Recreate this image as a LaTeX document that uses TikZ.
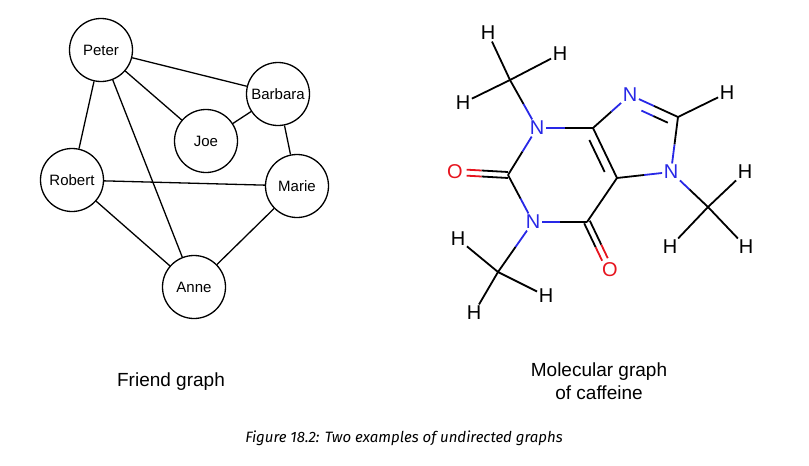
\documentclass[tikz,border=0pt]{standalone}
\usepackage{fontspec}
\setmainfont{Liberation Sans}
\newfontfamily\capfont{Fira Sans}
\usetikzlibrary{calc}
\definecolor{nblue}{RGB}{40,40,230}
\definecolor{ored}{RGB}{230,20,30}
\tikzset{person/.style={draw,circle,line width=1.3pt,minimum size=63pt,inner sep=0pt,font=\fontsize{15}{17}\selectfont},
atom/.style={inner sep=1.5pt,font=\fontsize{20}{22}\selectfont},
bondline/.style={line width=1.8pt}}
\newcommand{\bond}[4]{\draw[bondline,#3] (#1) -- ($(#1)!.5!(#2)$);
\draw[bondline,#4] ($(#1)!.5!(#2)$) -- (#2);}
% double bond line: from, to, offset
\newcommand{\obond}[3]{\draw[bondline] ($(#1)+(#3)$) -- ($(#1)!.5!(#2)+(#3)$);
\draw[bondline,ored] ($(#1)!.5!(#2)+(#3)$) -- ($(#1)!.78!(#2)+(#3)$);}
\begin{document}
\begin{tikzpicture}[x=1pt,y=-1pt]
\useasboundingbox (0,0) rectangle (809,466);
% friend graph
\node[person] (peter) at (101,50) {Peter};
\node[person] (barbara) at (278,94) {Barbara};
\node[person] (joe) at (206,141) {Joe};
\node[person] (robert) at (72,180) {Robert};
\node[person] (marie) at (297,186) {Marie};
\node[person] (anne) at (194,287) {Anne};
\foreach \from/\to in {peter/barbara,peter/joe,peter/robert,peter/anne,joe/barbara,barbara/marie,robert/marie,robert/anne,anne/marie}
\draw[line width=1.3pt] (\from) -- (\to);

% caffeine
\node[atom] (h1) at (488,33) {H};
\node[atom] (h2) at (560,54) {H};
\node[atom] (h3) at (463,103) {H};
\coordinate (c1) at (510,80);
\node[atom,nblue] (n1) at (537,128) {N};
\coordinate (c4) at (593,128);
\node[atom,nblue] (n9) at (630,95) {N};
\coordinate (c8) at (678,117);
\node[atom] (h4) at (727,93) {H};
\node[atom,nblue] (n7) at (671,172) {N};
\coordinate (c5) at (617,178);
\coordinate (c6) at (587,222);
\node[atom,ored] (o2) at (610,270) {O};
\node[atom,nblue] (n3) at (533,222) {N};
\coordinate (c2) at (508,175);
\node[atom,ored] (o1) at (455,172) {O};
\coordinate (c3) at (498,272);
\node[atom] (h5) at (458,239) {H};
\node[atom] (h6) at (546,296) {H};
\node[atom] (h7) at (474,313) {H};
\coordinate (c7) at (708,207);
\node[atom] (h8) at (745,172) {H};
\node[atom] (h9) at (670,247) {H};
\node[atom] (h10) at (746,247) {H};

\foreach \from/\to in {c1/h1,c1/h2,c1/h3,c8/h4,c3/h5,c3/h6,c3/h7,c7/h8,c7/h9,c7/h10,c4/c5,c5/c6}
\draw[bondline] (\from) -- (\to);
\bond{c1}{n1}{black}{nblue}
\bond{n1}{c4}{nblue}{black}
\bond{c4}{n9}{black}{nblue}
\bond{n9}{c8}{nblue}{black}
\bond{c8}{n7}{black}{nblue}
\bond{n7}{c5}{nblue}{black}
\bond{n7}{c7}{nblue}{black}
\bond{c6}{n3}{black}{nblue}
\bond{n3}{c2}{nblue}{black}
\bond{c2}{n1}{black}{nblue}
\bond{n3}{c3}{nblue}{black}
% double bonds
\obond{c2}{o1}{0,-3}
\obond{c2}{o1}{0,3}
\obond{c6}{o2}{-2.8,1.3}
\obond{c6}{o2}{2.8,-1.3}
\draw[bondline] ($(c4)!.18!(c5)+(-8,3)$) -- ($(c4)!.82!(c5)+(-8,3)$);
\draw[bondline,nblue] ($(n9)!.3!(c8)+(-3,9)$) -- ($(n9)!.55!(c8)+(-3,9)$);
\draw[bondline] ($(n9)!.55!(c8)+(-3,9)$) -- ($(n9)!.85!(c8)+(-3,9)$);

% captions
\node[font=\fontsize{19}{21}\selectfont] (friendcap) at (171,382) {Friend graph};
\node[font=\fontsize{19}{23}\selectfont,align=center] (molcap) at (599,381) {Molecular graph\\of caffeine};
\node[font=\capfont\itshape\fontsize{15}{17}\selectfont] (figcap) at (404,438) {Figure 18.2: Two examples of undirected graphs};
\end{tikzpicture}
\end{document}
